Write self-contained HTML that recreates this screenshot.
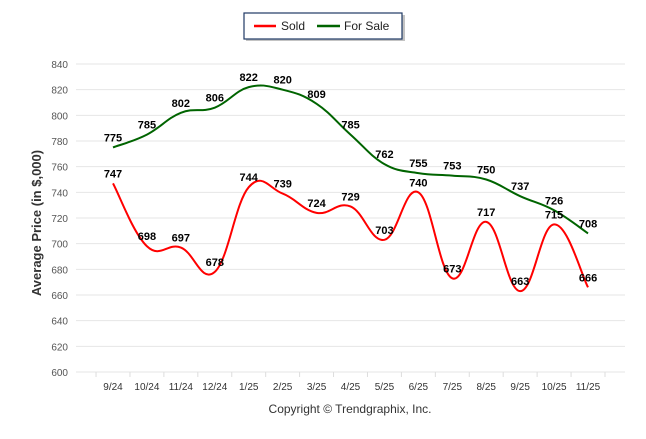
<!DOCTYPE html>
<html><head><meta charset="utf-8"><style>
body{margin:0;background:#fff;font-family:"Liberation Sans",Arial,sans-serif}
</style></head><body>
<svg id="c" width="646" height="434" xmlns="http://www.w3.org/2000/svg" font-family="Liberation Sans, Arial, sans-serif">
<g>
<rect x="246" y="15" width="159" height="26" fill="#888" opacity="0.5"/>
<rect x="244" y="13" width="158" height="26" fill="#fff" stroke="#1f3864" stroke-width="1.2"/>
<line x1="254" y1="26" x2="276" y2="26" stroke="#f00" stroke-width="2.5"/>
<text x="281" y="30" font-size="12" fill="#222">Sold</text>
<line x1="317" y1="26" x2="340" y2="26" stroke="#006400" stroke-width="2.5"/>
<text x="344" y="30" font-size="12" fill="#222">For Sale</text>
</g>
<text transform="translate(41,223) rotate(-90)" text-anchor="middle" font-size="13" font-weight="bold" fill="#333">Average Price (in $,000)</text>
<text x="350" y="413" text-anchor="middle" font-size="12" fill="#333">Copyright © Trendgraphix, Inc.</text>
<g id="grid"></g><g id="lines"></g><g id="labels"></g>
</svg>
<script>
const categories=["9/24","10/24","11/24","12/24","1/25","2/25","3/25","4/25","5/25","6/25","7/25","8/25","9/25","10/25","11/25"];
const sold=[747,698,697,678,744,739,724,729,703,740,673,717,663,715,666];
const forSale=[775,785,802,806,822,820,809,785,762,755,753,750,737,726,708];
const yTicks=[600,620,640,660,680,700,720,740,760,780,800,820,840];
const NS="http://www.w3.org/2000/svg";
const svg=document.getElementById('c');
function x(i){return 113+i*33.93;}
function y(v){return 372-(v-600)*(308/240);}
function mk(t,a,p){const e=document.createElementNS(NS,t);for(const k in a)e.setAttribute(k,a[k]);p.appendChild(e);return e;}
const grid=document.getElementById('grid');
yTicks.forEach(v=>{
 const l=mk('line',{x1:76,x2:625,y1:y(v),y2:y(v),stroke:'#e6e6e6','stroke-width':1},grid);
 
 
 const t=mk('text',{x:68,y:y(v)+4,'text-anchor':'end','font-size':10,fill:'#555'},grid);
 t.textContent=v;
 
 
});
for(let i=0;i<=categories.length;i++){
 const tx=x(i)-16.97;
 const tk=mk('line',{x1:tx,x2:tx,y1:372,y2:377,stroke:'#ddd'},grid);
 
 
}
categories.forEach((c,i)=>{
 const t=mk('text',{x:x(i),y:390,'text-anchor':'middle','font-size':10,fill:'#333'},grid);
 t.textContent=c;
 
 
});
function path(vals){
 const p=vals.map((v,i)=>[x(i),y(v)]);
 let d='M'+p[0][0]+','+p[0][1];
 for(let i=0;i<p.length-1;i++){
  const p0=p[i-1]||p[i],p1=p[i],p2=p[i+1],p3=p[i+2]||p[i+1];
  const t=0.2;
  d+=' C'+(p1[0]+(p2[0]-p0[0])*t)+','+(p1[1]+(p2[1]-p0[1])*t)+' '+(p2[0]-(p3[0]-p1[0])*t)+','+(p2[1]-(p3[1]-p1[1])*t)+' '+p2[0]+','+p2[1];
 }
 return d;
}
const lines=document.getElementById('lines');
const g1=mk('path',{d:path(forSale),fill:'none',stroke:'#006400','stroke-width':2},lines);


const r1=mk('path',{d:path(sold),fill:'none',stroke:'#f00','stroke-width':2},lines);


const labels=document.getElementById('labels');
function lab(vals,name){
 vals.forEach((v,i)=>{
  const t=mk('text',{x:x(i),y:y(v)-6,'text-anchor':'middle','font-size':11,'font-weight':'bold',fill:'#000'},labels);
  t.textContent=v;
  
  
 });
}
lab(forSale,'for-sale');lab(sold,'sold');
</script>
</body></html>
